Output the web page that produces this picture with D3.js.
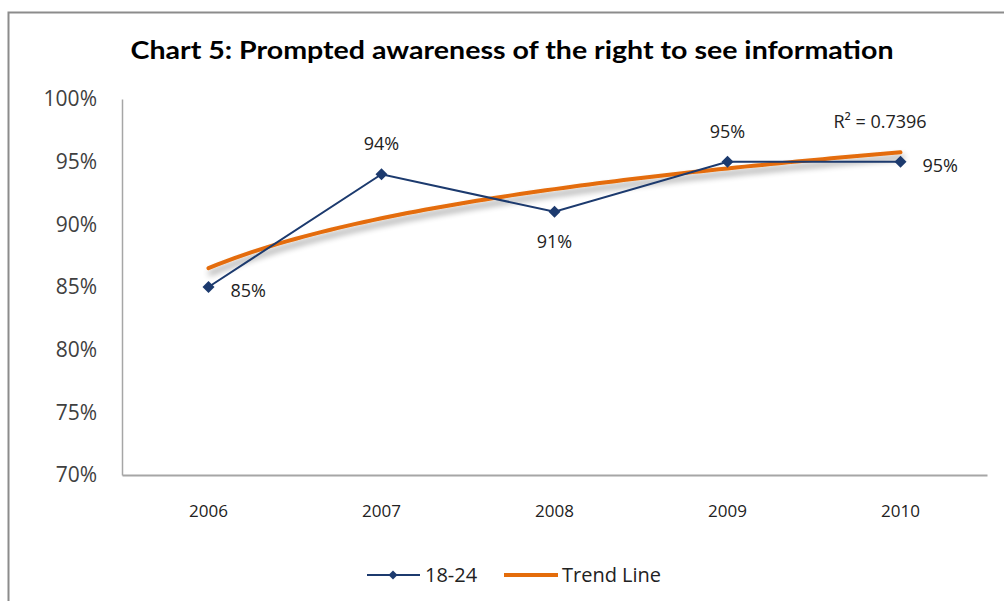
<!DOCTYPE html>
<html>
<head>
<meta charset="utf-8">
<script src="https://cdn.jsdelivr.net/npm/d3@7"></script>
<style>
  body { margin: 0; background: #fff; }
  svg { display: block; font-family: "Lato", "DejaVu Sans", sans-serif; }
</style>
</head>
<body>
<div id="chart"></div>
<script>
// chart values
var years = ["2006", "2007", "2008", "2009", "2010"];
var values = [85, 94, 91, 95, 95];
var yTicks = [70, 75, 80, 85, 90, 95, 100];
var r2Label = "R\u00b2 = 0.7396";
var seriesName = "18-24";
var trendName = "Trend Line";
var title = "Chart 5:  Prompted awareness of the right to see information";

// label placement per point: "right", "above", "below"
var labelPos = ["right", "above", "below", "above", "right"];

var W = 1004, H = 601;
var margin = { top: 99, left: 122, right: 1004 - 987, bottom: 601 - 475 };
var navy = "#1c3a6e", orange = "#e46c0a";
var labelFont = "'Open Sans', 'DejaVu Sans', sans-serif";

var svg = d3.select("#chart").append("svg")
    .attr("width", W)
    .attr("height", H);

var defs = svg.append("defs");
var shadow = defs.append("filter").attr("id", "shadow")
    .attr("x", "-10%").attr("y", "-50%").attr("width", "120%").attr("height", "300%");
shadow.append("feGaussianBlur").attr("in", "SourceAlpha").attr("stdDeviation", 3).attr("result", "blur");
shadow.append("feOffset").attr("dx", 2).attr("dy", 5).attr("result", "off");
shadow.append("feComponentTransfer").attr("in", "off").attr("result", "soft")
  .append("feFuncA").attr("type", "linear").attr("slope", 0.4);
var merge = shadow.append("feMerge");
merge.append("feMergeNode").attr("in", "soft");
merge.append("feMergeNode").attr("in", "SourceGraphic");

// outer frame
svg.append("rect")
    .attr("x", 8.5).attr("y", 12.5)
    .attr("width", 1100).attr("height", 700)
    .attr("fill", "none")
    .attr("stroke", "#8c8c8c")
    .attr("stroke-width", 2);

// title
svg.append("text")
    .attr("x", 512).attr("y", 59)
    .attr("text-anchor", "middle")
    .style("font-size", "24px")
    .style("font-weight", "bold")
    .attr("fill", "#000")
    .attr("textLength", 763)
    .attr("lengthAdjust", "spacingAndGlyphs")
    .text(title);

var x = d3.scaleBand()
    .domain(years)
    .range([margin.left, W - margin.right]);

var y = d3.scaleLinear()
    .domain([70, 100])
    .range([H - margin.bottom, margin.top]);

// y axis
var yAxis = svg.append("g")
    .attr("transform", "translate(" + margin.left + ",0)")
    .call(d3.axisLeft(y).tickValues(yTicks).tickSize(0).tickPadding(25)
      .tickFormat(function(d) { return d + "%"; }));
yAxis.select(".domain").attr("stroke", "#a6a6a6").attr("stroke-width", 1.5);
yAxis.selectAll("text")
    .style("font-size", "21px")
    .style("font-family", labelFont)
    .attr("fill", "#404040");

// x axis
var xAxis = svg.append("g")
    .attr("transform", "translate(0," + (H - margin.bottom) + ")")
    .call(d3.axisBottom(x).tickSize(0).tickPadding(30));
xAxis.select(".domain").attr("stroke", "#a6a6a6").attr("stroke-width", 2);
xAxis.selectAll("text")
    .style("font-size", "17px")
    .style("font-family", labelFont)
    .attr("fill", "#222");

// logarithmic trend (least squares on ln(index))
var lx = values.map(function(v, i) { return Math.log(i + 1); });
var mx = d3.mean(lx), my = d3.mean(values);
var sxy = d3.sum(values, function(v, i) { return (lx[i] - mx) * (v - my); });
var sxx = d3.sum(lx, function(v) { return (v - mx) * (v - mx); });
var slope = sxy / sxx, icpt = my - slope * mx;

var xi = d3.scaleLinear()
    .domain([1, years.length])
    .range([x(years[0]) + x.bandwidth() / 2, x(years[years.length - 1]) + x.bandwidth() / 2]);
var trendPts = d3.range(1, years.length + 0.001, 0.05);

svg.append("path")
    .datum(trendPts)
    .attr("fill", "none")
    .attr("stroke", orange)
    .attr("stroke-width", 4)
    .attr("stroke-linecap", "round")
    .attr("filter", "url(#shadow)")
    .attr("d", d3.line()
      .x(function(d) { return xi(d); })
      .y(function(d) { return y(icpt + slope * Math.log(d)); }));

// data series
var cx = function(d, i) { return x(years[i]) + x.bandwidth() / 2; };
svg.append("path")
    .datum(values)
    .attr("fill", "none")
    .attr("stroke", navy)
    .attr("stroke-width", 2)
    .attr("d", d3.line().x(cx).y(function(d) { return y(d); }));

var diamond = d3.symbol().type(d3.symbolSquare).size(72);
svg.selectAll(".pt")
    .data(values)
  .enter().append("path")
    .attr("class", "pt")
    .attr("transform", function(d, i) { return "translate(" + cx(d, i) + "," + y(d) + ") rotate(45)"; })
    .attr("d", diamond)
    .attr("fill", navy);

// value labels
svg.selectAll(".lbl")
    .data(values)
  .enter().append("text")
    .attr("class", "lbl")
    .attr("x", function(d, i) {
      return labelPos[i] == "right" ? cx(d, i) + 22 : cx(d, i);
    })
    .attr("y", function(d) { return y(d); })
    .attr("dy", function(d, i) {
      return labelPos[i] == "above" ? -24 : labelPos[i] == "below" ? 36 : 10;
    })
    .attr("text-anchor", function(d, i) { return labelPos[i] == "right" ? "start" : "middle"; })
    .style("font-size", "18px")
    .style("font-family", labelFont)
    .attr("fill", "#222")
    .text(function(d) { return d + "%"; });

// R squared
svg.append("text")
    .attr("x", 880).attr("y", 128)
    .attr("text-anchor", "middle")
    .style("font-size", "18px")
    .style("font-family", labelFont)
    .attr("fill", "#222")
    .text(r2Label);

// legend
var lg = svg.append("g").attr("transform", "translate(0,575)");
lg.append("line").attr("x1", 367).attr("x2", 420).attr("stroke", navy).attr("stroke-width", 2);
lg.append("path").attr("transform", "translate(393,0) rotate(45)")
    .attr("d", d3.symbol().type(d3.symbolSquare).size(40)).attr("fill", navy);
lg.append("text").attr("x", 425).attr("dy", 7)
    .style("font-size", "20px").style("font-family", labelFont)
    .attr("fill", "#222").text(seriesName);
lg.append("line").attr("x1", 504).attr("x2", 558).attr("stroke", orange).attr("stroke-width", 4);
lg.append("text").attr("x", 562).attr("dy", 7)
    .style("font-size", "20px").style("font-family", labelFont)
    .attr("fill", "#222").text(trendName);
</script>
</body>
</html>
